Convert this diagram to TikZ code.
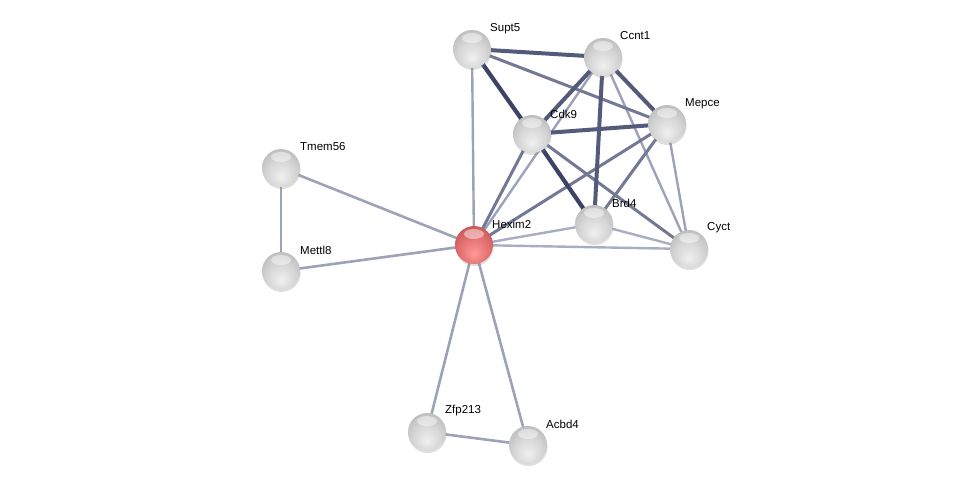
\documentclass[tikz,border=0pt]{standalone}
\usepackage{fontspec}
\setmainfont{Liberation Sans}
\usetikzlibrary{shadows}
\pgfdeclarelayer{bg}
\pgfsetlayers{bg,main}
\definecolor{edark}{HTML}{3C4364}
\definecolor{ethick}{HTML}{545A7A}
\definecolor{emed}{HTML}{737895}
\definecolor{elight}{HTML}{9EA2B8}
\definecolor{elighter}{HTML}{A9ADC2}
\pgfdeclareradialshading{grayball}{\pgfpoint{0bp}{-12bp}}{%
  color(0bp)=(white!94!black); color(18bp)=(white!84!black);
  color(32bp)=(white!74!black); color(46bp)=(white!60!black); color(62bp)=(white!38!black)}
\pgfdeclareradialshading{redball}{\pgfpoint{0bp}{-12bp}}{%
  color(0bp)=(red!40!white); color(18bp)=(red!50!white!90!black);
  color(32bp)=(red!55!white!78!black); color(46bp)=(red!60!black!70!white); color(62bp)=(red!55!black)}
\tikzset{
  ball/.style={circle, minimum size=38pt, inner sep=0pt, shading=#1,
    drop shadow={shadow xshift=0.6pt, shadow yshift=-2pt, opacity=0.25},
    path picture={
      \fill[white, opacity=0.45] ([yshift=-8pt]path picture bounding box.north) ellipse (10pt and 5pt);
    }},
  ball/.default=grayball,
  lbl/.style={anchor=west, inner sep=0pt, font=\fontsize{11.5}{13}\selectfont},
  lk/.style={line width=#1, line cap=round},
}
\begin{document}
\begin{tikzpicture}[x=1pt,y=-1pt]
\useasboundingbox (0,0) rectangle (976,490);
% nodes
\node[ball] (supt5) at (472,49) {};
\node[ball] (ccnt1) at (603,57) {};
\node[ball] (mepce) at (667,124) {};
\node[ball] (cdk9) at (532,134) {};
\node[ball] (tmem56) at (281,168) {};
\node[ball=redball] (hexim2) at (474,245) {};
\node[ball] (brd4) at (594,224) {};
\node[ball] (cyct) at (689,249) {};
\node[ball] (mettl8) at (281,271) {};
\node[ball] (zfp213) at (427,432) {};
\node[ball] (acbd4) at (528,445) {};
% labels
\node[lbl] (lsupt5) at (490,29) {Supt5};
\node[lbl] (lccnt1) at (620,36) {Ccnt1};
\node[lbl] (lmepce) at (685,104) {Mepce};
\node[lbl] (lcdk9) at (550,114) {Cdk9};
\node[lbl] (ltmem56) at (300,147) {Tmem56};
\node[lbl] (lhexim2) at (492,224) {Hexim2};
\node[lbl] (lbrd4) at (612,203) {Brd4};
\node[lbl] (lcyct) at (707,228) {Cyct};
\node[lbl] (lmettl8) at (300,250) {Mettl8};
\node[lbl] (lzfp213) at (445,411) {Zfp213};
\node[lbl] (lacbd4) at (546,424) {Acbd4};
% edges
\begin{pgfonlayer}{bg}
\draw[lk=2.4pt, elighter] (brd4.center) -- (hexim2.center);
\draw[lk=2.4pt, elighter] (brd4.center) -- (cyct.center);
\draw[lk=2.4pt, elighter] (hexim2.center) -- (cyct.center);
\draw[lk=2.4pt, elight] (supt5.center) -- (hexim2.center);
\draw[lk=2.4pt, elight] (ccnt1.center) -- (hexim2.center);
\draw[lk=2.4pt, elight] (ccnt1.center) -- (cyct.center);
\draw[lk=2.4pt, elight] (mepce.center) -- (cyct.center);
\draw[lk=2.6pt, elight] (hexim2.center) -- (tmem56.center);
\draw[lk=2.6pt, elight] (hexim2.center) -- (mettl8.center);
\draw[lk=2.6pt, elight] (hexim2.center) -- (zfp213.center);
\draw[lk=2.6pt, elight] (hexim2.center) -- (acbd4.center);
\draw[lk=2.4pt, elight] (tmem56.center) -- (mettl8.center);
\draw[lk=2.6pt, elight] (zfp213.center) -- (acbd4.center);
\draw[lk=3pt, emed] (supt5.center) -- (mepce.center);
\draw[lk=3pt, emed] (cdk9.center) -- (cyct.center);
\draw[lk=3pt, emed] (cdk9.center) -- (hexim2.center);
\draw[lk=3pt, emed] (mepce.center) -- (hexim2.center);
\draw[lk=3pt, emed] (mepce.center) -- (brd4.center);
\draw[lk=4pt, ethick] (supt5.center) -- (ccnt1.center);
\draw[lk=4pt, ethick] (ccnt1.center) -- (cdk9.center);
\draw[lk=4pt, ethick] (ccnt1.center) -- (brd4.center);
\draw[lk=4pt, ethick] (ccnt1.center) -- (mepce.center);
\draw[lk=4pt, ethick] (cdk9.center) -- (mepce.center);
\draw[lk=4.2pt, edark] (supt5.center) -- (cdk9.center);
\draw[lk=4.2pt, edark] (cdk9.center) -- (brd4.center);
\end{pgfonlayer}
\end{tikzpicture}
\end{document}
